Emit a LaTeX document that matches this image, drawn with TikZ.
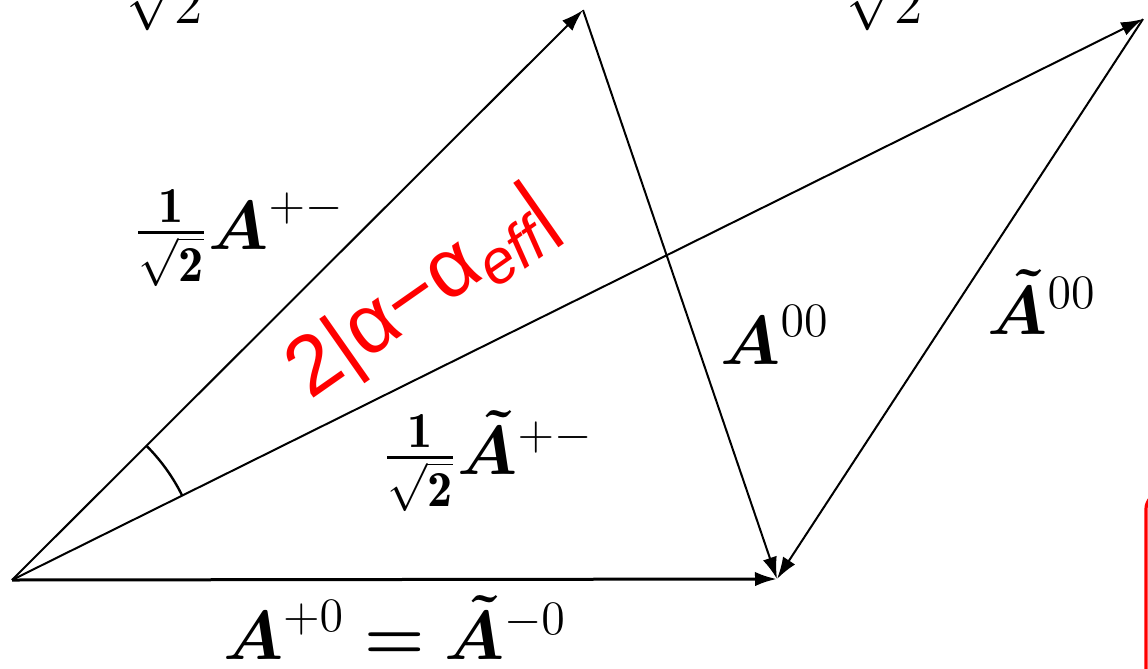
\documentclass[tikz,border=0pt]{standalone}
\usepackage{amsmath}
\usepackage{fontspec}
\newfontfamily\alphafont{Liberation Sans}
\usetikzlibrary{arrows.meta}
\definecolor{Scarlet}{HTML}{FF0000}

\begin{document}
\begin{tikzpicture}[x=0.25pt,y=0.25pt,
    vec/.style={-{Latex[length=5.5pt,width=3.6pt]},line width=0.5pt},
    lbl/.style={inner sep=0pt,font=\fontsize{18}{21}\selectfont}]
  \useasboundingbox (0,0) rectangle (1148,668);
  \clip (0,0) rectangle (1148,668);

  \coordinate (o) at (12,88);
  \coordinate (p) at (583,658);
  \coordinate (q) at (777,89);
  \coordinate (r) at (1143,649);

  \draw[vec] (o) -- (p);
  \draw[vec] (p) -- (q);
  \draw[vec,line width=0.75pt] (o) -- (q);
  \draw[vec] (o) -- (r);
  \draw[vec] (r) -- (q);
  \draw[line width=0.6pt] (o) ++(26.4:190) arc[start angle=26.4,end angle=45,radius=190];

  \node[lbl] (apm) at (239,430) {$\frac{\mathbf{1}}{\sqrt{\mathbf{2}}}\boldsymbol{A}^{+-}$};
  \node[lbl] (atpm) at (488,205) {$\frac{\mathbf{1}}{\sqrt{\mathbf{2}}}\smash[t]{\boldsymbol{\tilde{A}}}^{+-}$};
  \node[lbl] (azero) at (395,38) {$\boldsymbol{A}^{+0}\boldsymbol{=}\smash[t]{\boldsymbol{\tilde{A}}}^{-0}$};
  \node[lbl] (a00) at (775,333) {$\boldsymbol{A}^{00}$};
  \node[lbl] (at00) at (1042,362) {$\smash[t]{\boldsymbol{\tilde{A}}}^{00}$};

  \node[rotate=35,text=Scarlet,inner sep=0pt] (diff) at (423,373)
    {\alphafont\fontsize{21}{24}\selectfont 2|α−α\raisebox{-0.35ex}{\fontsize{15.5}{15}\selectfont\itshape eff}|};

  % cut-off rests at the page edges
  \node[anchor=base,font=\fontsize{14}{16}\selectfont] (rtl) at (165,645) {$\sqrt{2}$};
  \node[anchor=base,font=\fontsize{14}{16}\selectfont] (rtr) at (885,645) {$\sqrt{2}$};
  \draw[Scarlet,line width=0.8pt,rounded corners=4pt] (1146,-20) rectangle (1300,175);
\end{tikzpicture}
\end{document}
